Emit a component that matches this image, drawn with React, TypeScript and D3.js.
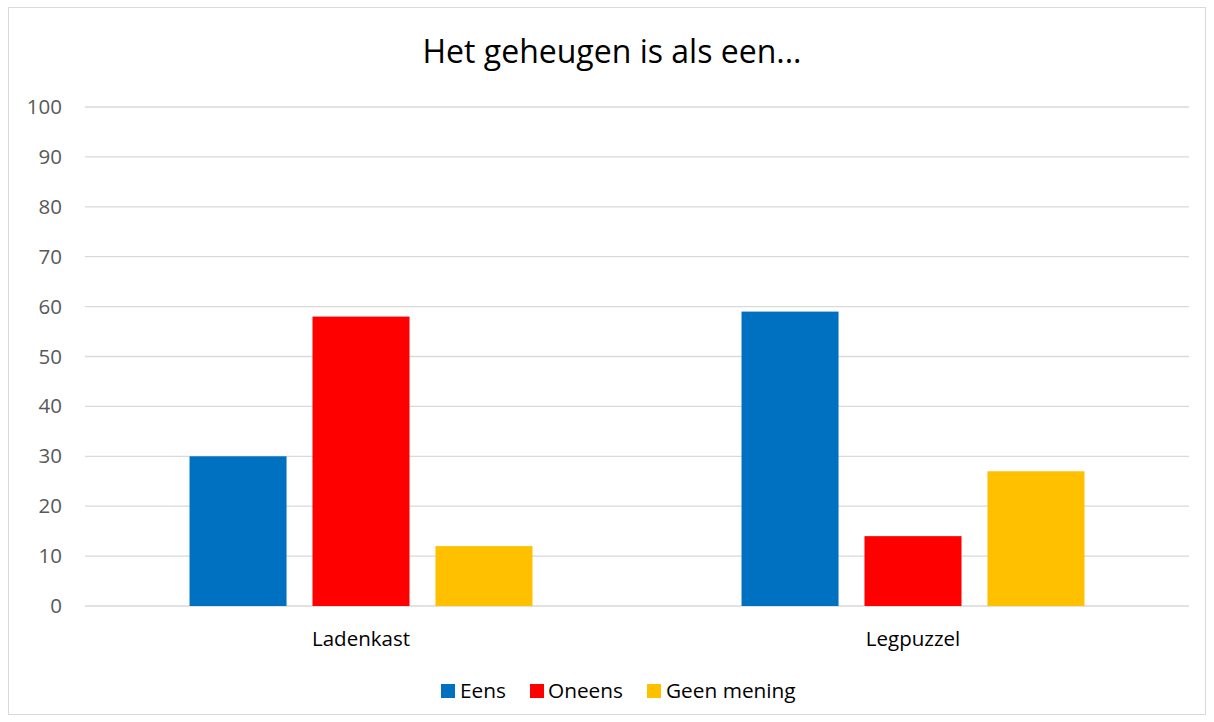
import React from "react";
import * as d3 from "d3";

const categories = ["Ladenkast", "Legpuzzel"];
const seriesNames = ["Eens", "Oneens", "Geen mening"];
const seriesColors = ["#0070C0", "#FF0000", "#FFC000"];
const eensValues = [30, 59];
const oneensValues = [58, 14];
const geenMeningValues = [12, 27];
const yTicks = [0, 10, 20, 30, 40, 50, 60, 70, 80, 90, 100];
const title = "Het geheugen is als een...";

const W = 1214;
const H = 722;
const FONT = "'Open Sans', 'Noto Sans', sans-serif";

export default function App() {
  const values = [eensValues, oneensValues, geenMeningValues];
  const x0 = d3.scaleBand<string>().domain(categories).range([85, 1189]).paddingInner(0).paddingOuter(0);
  const x1 = d3
    .scaleBand<string>()
    .domain(seriesNames)
    .range([0, x0.bandwidth()])
    .paddingInner(0.211)
    .paddingOuter(0.85);
  const y = d3.scaleLinear().domain([0, 100]).range([606, 107]);

  const legendItems = [
    { name: seriesNames[0], sx: 441, tx: 460 },
    { name: seriesNames[1], sx: 530, tx: 548 },
    { name: seriesNames[2], sx: 647, tx: 666 },
  ];

  return (
    <svg width={W} height={H} style={{ position: "absolute", left: 0, top: 0, fontFamily: FONT }}>
      <rect x={0} y={0} width={W} height={H} fill="#fff" />
      <rect x={8.5} y={7.5} width={1197} height={707} fill="#fff" stroke="#d9d9d9" strokeWidth={1} />
      <text x={612} y={63} textAnchor="middle" fontSize={32} fill="#000">
        {title}
      </text>
      {yTicks.map((t) => (
        <g key={t}>
          <line x1={85} x2={1189} y1={y(t)} y2={y(t)} stroke="#d9d9d9" strokeWidth={1.3} />
          <text x={62} y={y(t) + 7} textAnchor="end" fontSize={20.5} fill="#595959">
            {t}
          </text>
        </g>
      ))}
      {categories.map((c, ci) => (
        <g key={c} transform={`translate(${x0(c)},0)`}>
          {seriesNames.map((s, si) => (
            <rect
              key={s}
              x={x1(s)}
              y={y(values[si][ci])}
              width={x1.bandwidth()}
              height={y(0) - y(values[si][ci])}
              fill={seriesColors[si]}
            />
          ))}
          <text x={x0.bandwidth() / 2} y={646} textAnchor="middle" fontSize={20.5} fill="#000">
            {c}
          </text>
        </g>
      ))}
      {legendItems.map((it, i) => (
        <g key={it.name}>
          <rect x={it.sx} y={684} width={14} height={14} fill={seriesColors[i]} />
          <text x={it.tx} y={698} fontSize={20.8} fill="#000">
            {it.name}
          </text>
        </g>
      ))}
    </svg>
  );
}
